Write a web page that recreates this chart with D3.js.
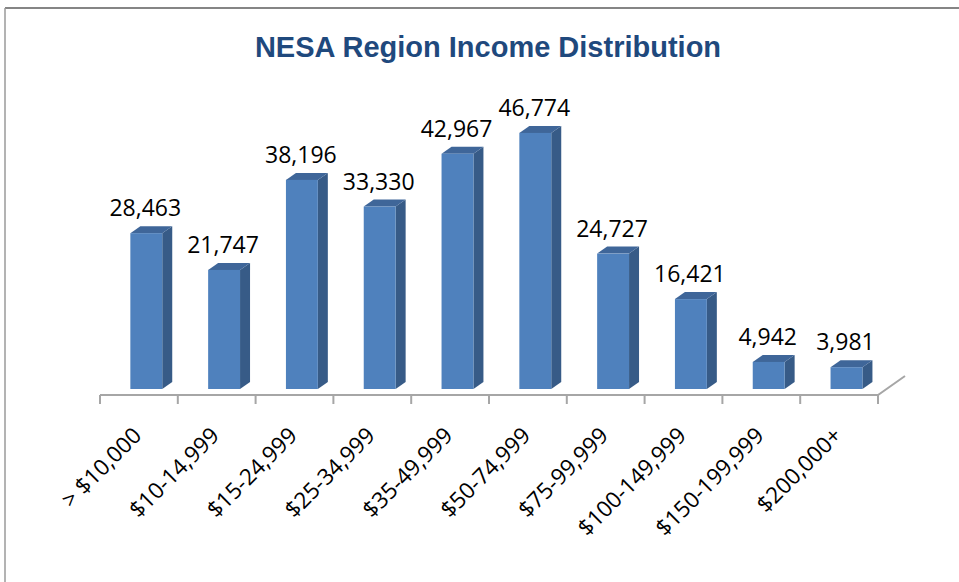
<!DOCTYPE html>
<html>
<head>
<meta charset="utf-8">
<script src="https://cdn.jsdelivr.net/npm/d3@7"></script>
<style>
  body { margin: 0; background: #fff; }
  svg { display: block; }
</style>
</head>
<body>
<svg id="chart" width="959" height="582"></svg>
<script>
const categories = ["> $10,000", "$10-14,999", "$15-24,999", "$25-34,999", "$35-49,999",
                    "$50-74,999", "$75-99,999", "$100-149,999", "$150-199,999", "$200,000+"];
const households = [28463, 21747, 38196, 33330, 42967, 46774, 24727, 16421, 4942, 3981];
const title = "NESA Region Income Distribution";

const width = 959;
const height = 582;
const depthX = 10;
const depthY = 7;

const svg = d3.select("#chart");

// outer frame
svg.append("line")
    .attr("x1", 5).attr("y1", 8).attr("x2", width).attr("y2", 8)
    .attr("stroke", "#858585").attr("stroke-width", 2);
svg.append("line")
    .attr("x1", 5).attr("y1", 8).attr("x2", 5).attr("y2", height)
    .attr("stroke", "#9a9a9a").attr("stroke-width", 1.5);

svg.append("text")
    .attr("x", 488).attr("y", 57)
    .attr("text-anchor", "middle")
    .attr("font-family", "Liberation Sans, Arial, sans-serif")
    .attr("font-weight", "bold")
    .attr("font-size", 29)
    .attr("fill", "#1f497d")
    .text(title);

const x = d3.scaleBand()
    .domain(categories)
    .range([100, 878]);

const y = d3.scaleLinear()
    .domain([0, 50000])
    .range([389, 115.25]);

const data = categories.map((c, i) => ({ cat: c, value: households[i] }));

const barW = x.bandwidth() * 0.41;
const barOff = x.bandwidth() * 0.39;

// axis line with the 3D floor edge
const axisY = 395;
const axis = svg.append("g").attr("stroke", "#a6a6a6").attr("stroke-width", 2).attr("fill", "none");
axis.append("path")
    .attr("d", `M${x.range()[0]},${axisY}H${x.range()[1]}l27,-19`);
const tickPos = categories.map(c => x(c)).concat([x.range()[1]]);
axis.selectAll("line.tick")
    .data(tickPos)
    .enter()
    .append("line")
    .attr("x1", d => d).attr("x2", d => d)
    .attr("y1", axisY).attr("y2", axisY + 9);

const bars = svg.append("g");

bars.selectAll("path.side")
    .data(data)
    .enter()
    .append("path")
    .attr("fill", "#375b87")
    .attr("d", d => {
        const fx = x(d.cat) + barOff + barW;
        const top = y(d.value), bot = y(0);
        return `M${fx},${top}L${fx + depthX},${top - depthY}L${fx + depthX},${bot - depthY}L${fx},${bot}Z`;
    });

bars.selectAll("path.top")
    .data(data)
    .enter()
    .append("path")
    .attr("fill", "#3f6699")
    .attr("d", d => {
        const fx = x(d.cat) + barOff;
        const top = y(d.value);
        return `M${fx},${top}L${fx + depthX},${top - depthY}L${fx + barW + depthX},${top - depthY}L${fx + barW},${top}Z`;
    });

bars.selectAll("rect")
    .data(data)
    .enter()
    .append("rect")
    .attr("x", d => x(d.cat) + barOff)
    .attr("y", d => y(d.value))
    .attr("width", barW)
    .attr("height", d => y(0) - y(d.value))
    .attr("fill", "#4f81bd");

// value labels
svg.append("g")
    .selectAll("text")
    .data(data)
    .enter()
    .append("text")
    .attr("x", d => x(d.cat) + barOff + barW / 2 - 1)
    .attr("y", d => y(d.value) - 17)
    .attr("text-anchor", "middle")
    .attr("font-family", "Open Sans, Noto Sans, sans-serif")
    .attr("font-size", 23)
    .attr("fill", "#000")
    .text(d => d3.format(",")(d.value));

// category labels
svg.append("g")
    .selectAll("text")
    .data(categories)
    .enter()
    .append("text")
    .attr("transform", d => `translate(${x(d) + x.bandwidth() / 2 + 4},${437}) rotate(-45)`)
    .attr("text-anchor", "end")
    .attr("font-family", "Open Sans, Noto Sans, sans-serif")
    .attr("font-size", 22.5)
    .attr("fill", "#000")
    .text(d => d);
</script>
</body>
</html>
